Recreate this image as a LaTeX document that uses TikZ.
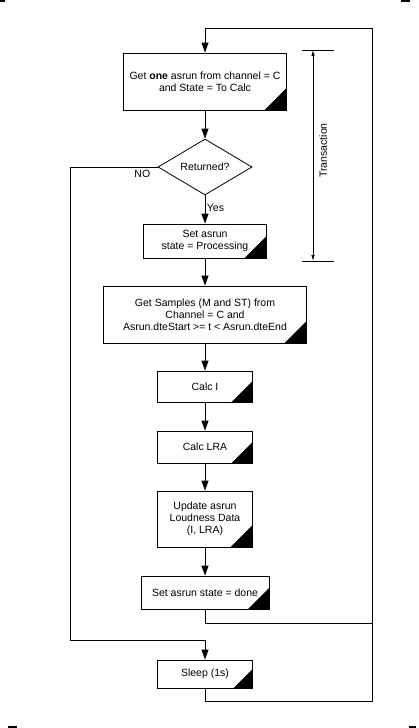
\documentclass[tikz,border=0pt]{standalone}
\usepackage{fontspec}
\setmainfont{Liberation Sans}
\usetikzlibrary{shapes.geometric,arrows.meta}
\begin{document}
\begin{tikzpicture}[x=1pt,y=1pt,
  line width=0.8pt,
  every node/.style={font=\fontsize{10.5}{12}\selectfont},
  fbox/.style={draw, rectangle, inner sep=0pt, align=center,
    path picture={\fill (path picture bounding box.south east) -- ++(-#1,0) -- ++(#1,#1) -- cycle;}},
  fbox/.default=22,
  dec/.style={draw, diamond, aspect=1.68, inner sep=0pt, minimum width=94pt, minimum height=56pt},
  arr/.style={-{Triangle[length=10pt,width=7pt]}},
  sarr/.style={{Latex[length=6pt,width=3.5pt]}-{Latex[length=6pt,width=3.5pt]}},
  lab/.style={inner sep=0pt}
]
\useasboundingbox (0,0) rectangle (418,-728);
% crop marks
\coordinate (m1a) at (0,-0.8); \coordinate (m1b) at (5,-0.8);
\coordinate (m2a) at (401,-0.8); \coordinate (m2b) at (410,-0.8);
\coordinate (m3a) at (8,-727); \coordinate (m3b) at (17,-727);
\coordinate (m4a) at (409,-727); \coordinate (m4b) at (416,-727);
\draw[line width=1.6pt] (m1a) -- (m1b) (m2a) -- (m2b) (m3a) -- (m3b) (m4a) -- (m4b);

% nodes
\node[fbox, minimum width=163pt, minimum height=57pt] (b1) at (205,-81.5)
  {Get \textbf{one} asrun from channel = C\\and State = To Calc};
\node[dec] (d) at (205,-167) {Returned?};
\node[fbox, minimum width=123pt, minimum height=34pt] (b2) at (205,-241)
  {Set asrun\\state = Processing};
\node[fbox, minimum width=203pt, minimum height=57pt] (b3) at (205,-314.5)
  {Get Samples (M and ST) from\\Channel = C and\\Asrun.dteStart >= t < Asrun.dteEnd};
\node[fbox=21, minimum width=95pt, minimum height=31pt] (b4) at (205,-386.5) {Calc I};
\node[fbox=21, minimum width=95pt, minimum height=32pt] (b5) at (205,-447) {Calc LRA};
\node[fbox, minimum width=95pt, minimum height=56pt] (b6) at (205,-519)
  {Update asrun\\Loudness Data\\(I, LRA)};
\node[fbox=21, minimum width=128pt, minimum height=33pt] (b7) at (205,-592.5)
  {Set asrun state = done};
\node[fbox=19, minimum width=95pt, minimum height=28pt] (b8) at (205,-674) {Sleep (1s)};

% coordinates for routing
\coordinate (nol) at (70,-640);
\coordinate (r1) at (372,-623);
\coordinate (rb) at (372,-701);
\coordinate (rt) at (372,-28);

% connectors
\draw[arr] (b1) -- (d);
\draw[arr] (d) -- node[right, inner sep=1.5pt, pos=0.45] {Yes} (b2);
\draw[arr] (b2) -- (b3);
\draw[arr] (b3) -- (b4);
\draw[arr] (b4) -- (b5);
\draw[arr] (b5) -- (b6);
\draw[arr] (b6) -- (b7);
\draw[arr] (d.west) -| (nol) -| (b8.north);
\node[lab, anchor=north east] (nolab) at ([xshift=-7pt,yshift=-2.5pt]d.west) {NO};
\draw (b7.south) |- (r1);
\draw[arr] (b8.south) |- (rb) -- (rt) -| (b1.north);

% transaction bracket
\coordinate (tl) at (302,-50); \coordinate (tr) at (334,-50);
\coordinate (bl) at (302,-261); \coordinate (br) at (334,-261);
\coordinate (tt) at (313,-50); \coordinate (tb) at (313,-261);
\draw (tl) -- (tr);
\draw (bl) -- (br);
\draw[sarr] (tt) -- (tb);
\node[lab, rotate=90] (tlab) at (323,-150.5) {Transaction};
\end{tikzpicture}
\end{document}
